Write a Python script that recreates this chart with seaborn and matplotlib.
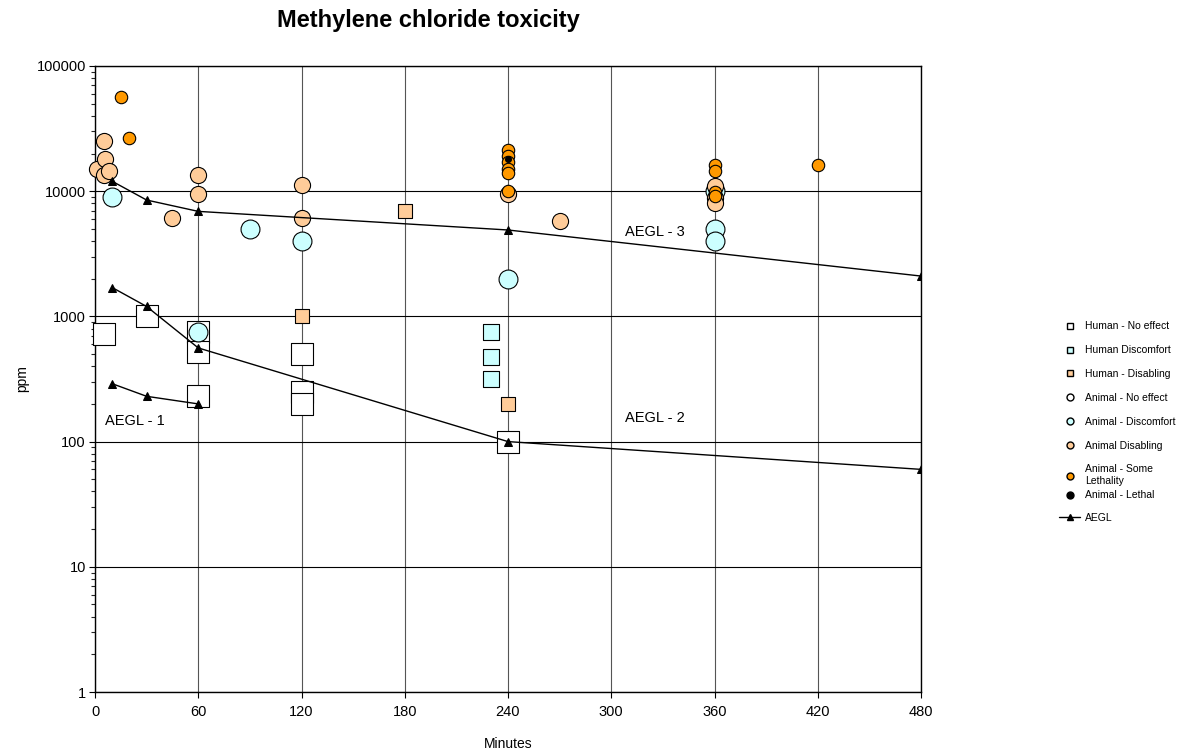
import matplotlib
matplotlib.use("Agg")
import matplotlib.pyplot as plt
from matplotlib.lines import Line2D
from matplotlib.ticker import FixedLocator, LogLocator, NullFormatter
import numpy as np
import pandas as pd
import seaborn as sns

# exposure data (minutes, ppm)
human_none_x = [5, 30, 60, 60, 60, 120, 120, 120, 240]
human_none_y = [720, 1000, 750, 520, 230, 500, 250, 200, 100]

human_disc_x = [230, 230, 230]
human_disc_y = [750, 475, 315]

human_disab_x = [120, 180, 240]
human_disab_y = [1000, 7000, 200]

animal_none_x = []
animal_none_y = []

animal_disc_x = [10, 60, 90, 120, 240, 360, 360, 360]
animal_disc_y = [9000, 750, 5000, 4000, 2000, 10000, 5000, 4000]

animal_disab_x = [1, 5, 6, 5, 8, 45, 60, 60, 120, 120, 240, 270, 360, 360, 360]
animal_disab_y = [15000, 25000, 18000, 13500, 14500, 6100, 13500, 9500,
                  11200, 6100, 9500, 5800, 11000, 8800, 8000]

animal_some_x = [15, 20, 240, 240, 240, 240, 240, 240, 360, 360, 360, 360, 420]
animal_some_y = [57000, 26500, 21500, 19000, 17000, 15000, 14000, 10000,
                 16200, 14500, 9800, 9100, 16200]

animal_lethal_x = [240]
animal_lethal_y = [18000]

aegl_min = [10, 30, 60, 240, 480]
aegl3 = [12000, 8500, 6900, 4900, 2100]
aegl2 = [1700, 1200, 560, 100, 60]
aegl1_min = [10, 30, 60]
aegl1 = [290, 230, 200]

x_ticks = [0, 60, 120, 180, 240, 300, 360, 420, 480]
y_ticks = [1, 10, 100, 1000, 10000, 100000]

groups = [
    ("Human - No effect", human_none_x, human_none_y, "s", "white", 250),
    ("Human Discomfort", human_disc_x, human_disc_y, "s", "#CCFFFF", 135),
    ("Human - Disabling", human_disab_x, human_disab_y, "s", "#FFCC99", 90),
    ("Animal - No effect", animal_none_x, animal_none_y, "o", "white", 180),
    ("Animal - Discomfort", animal_disc_x, animal_disc_y, "o", "#CCFFFF", 185),
    ("Animal Disabling", animal_disab_x, animal_disab_y, "o", "#FFCC99", 135),
    ("Animal - Some\nLethality", animal_some_x, animal_some_y, "o", "#FF9900", 80),
    ("Animal - Lethal", animal_lethal_x, animal_lethal_y, "o", "black", 18),
]

sns.set_style("ticks")
plt.rcParams["font.family"] = ["Liberation Sans", "DejaVu Sans"]
plt.rcParams["text.color"] = "black"
plt.rcParams["axes.labelcolor"] = "black"

fig = plt.figure(figsize=(11.94, 7.54), dpi=100)
ax = fig.add_axes([95 / 1194, 62 / 754, 826 / 1194, 626 / 754])
ax.set_yscale("log")

for label, xs, ys, mk, col, size in groups:
    if len(xs) == 0:
        continue
    df = pd.DataFrame({"Minutes": xs, "ppm": ys})
    sns.scatterplot(data=df, x="Minutes", y="ppm", marker=mk, color=col, s=size,
                    edgecolor="black", linewidth=0.8, ax=ax, clip_on=False,
                    legend=False, zorder=3)

for xs, ys in [(aegl_min, aegl3), (aegl_min, aegl2), (aegl1_min, aegl1)]:
    sns.lineplot(x=xs, y=ys, color="black", marker="^", markersize=5.5,
                 markeredgecolor="black", linewidth=1, ax=ax, zorder=4)

ax.text(308, 4700, "AEGL - 3", fontsize=10.5, ha="left", va="center")
ax.text(308, 154, "AEGL - 2", fontsize=10.5, ha="left", va="center")
ax.text(6, 146, "AEGL - 1", fontsize=10.5, ha="left", va="center")

ax.set_xlim(0, 480)
ax.set_ylim(1, 100000)
ax.xaxis.set_major_locator(FixedLocator(x_ticks))
ax.set_xticklabels([str(v) for v in x_ticks])
ax.yaxis.set_major_locator(FixedLocator(y_ticks))
ax.set_yticklabels([str(v) for v in y_ticks])
ax.yaxis.set_minor_locator(LogLocator(base=10, subs=np.arange(2, 10)))
ax.yaxis.set_minor_formatter(NullFormatter())

ax.yaxis.grid(True, which="major", color="black", linewidth=0.8)
ax.xaxis.grid(True, which="major", color="#555555", linewidth=0.8)
ax.set_axisbelow(True)
for sp in ax.spines.values():
    sp.set_color("black")
    sp.set_linewidth(1)
ax.tick_params(axis="both", which="major", direction="out", length=4,
               width=0.8, labelsize=10.5, colors="black", pad=2.5)
ax.tick_params(axis="x", which="major", pad=5)
ax.tick_params(axis="y", which="minor", direction="out", length=3, width=0.8)

ax.set_xlabel("Minutes", fontsize=10, labelpad=13)
ax.set_ylabel("ppm", fontsize=10, labelpad=5)

fig.text(428 / 1194, 1 - 20 / 754, "Methylene chloride toxicity",
         fontsize=17, fontweight="bold", ha="center", va="center")

handles = []
for label, xs, ys, mk, col, size in groups:
    handles.append(Line2D([], [], linestyle="none", marker=mk, markersize=5,
                          markerfacecolor=col, markeredgecolor="black",
                          markeredgewidth=1, label=label))
handles.append(Line2D([], [], color="black", marker="^", markersize=5,
                      linewidth=1, label="AEGL"))
leg_kw = dict(loc="upper left", frameon=False, fontsize=7.5, labelspacing=1.33,
              handlelength=2, handletextpad=0.5)
fig.legend(handles=handles[:7], bbox_to_anchor=(1050 / 1194, 1 - 312 / 754),
           **leg_kw)
fig.legend(handles=handles[7:], bbox_to_anchor=(1050 / 1194, 1 - 481 / 754),
           **dict(leg_kw, labelspacing=1.2))

fig.savefig("out.png", dpi=100)
